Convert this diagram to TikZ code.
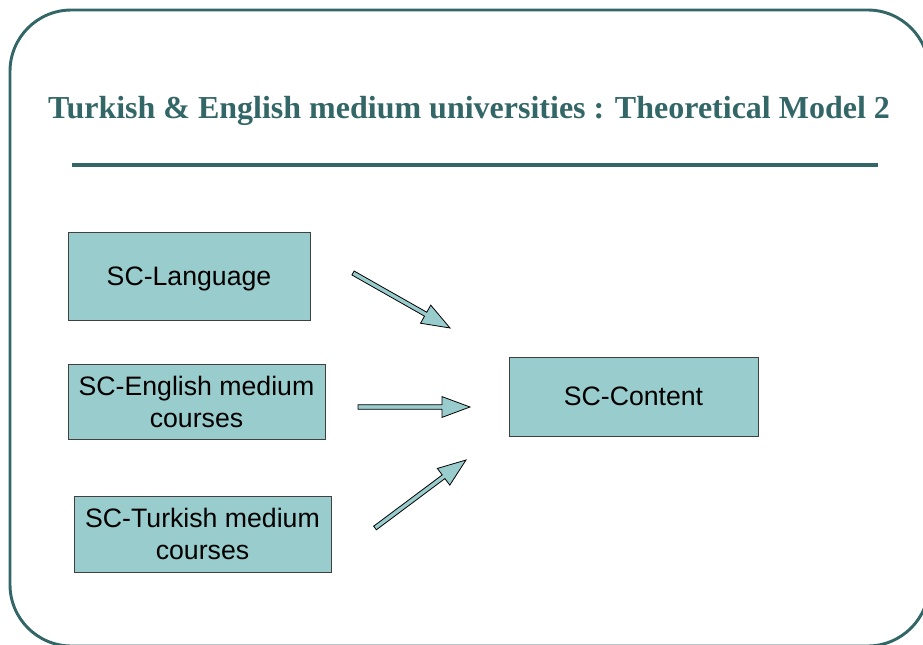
\documentclass[tikz,border=0pt]{standalone}
\usepackage{fontspec}
\setmainfont{Liberation Sans}
\newfontfamily\titlefont{Liberation Serif}
\usetikzlibrary{calc,positioning}
\definecolor{slidegreen}{HTML}{336666}
\definecolor{boxfill}{HTML}{99CCCC}
\definecolor{boxline}{HTML}{404040}

% block arrow from #1 (tail) to #2 (tip)
\newcommand{\blockarrow}[2]{%
  \coordinate (#1_head) at ($(#2)!21pt!(#1)$);
  \draw[arrowbody] ($(#1)!1.7pt!90:(#2)$) -- ($(#1_head)!1.7pt!90:(#2)$)
    -- ($(#1_head)!7.8pt!90:(#2)$) -- (#2) -- ($(#1_head)!7.8pt!-90:(#2)$)
    -- ($(#1_head)!1.7pt!-90:(#2)$) -- ($(#1)!1.7pt!-90:(#2)$) -- cycle;
}

\begin{document}
\begin{tikzpicture}[x=0.75pt, y=-0.75pt,
    frame/.style={draw=slidegreen, line width=2.2pt, rounded corners=46pt},
    scbox/.style={draw=boxline, fill=boxfill, line width=0.7pt, align=center,
        font=\fontsize{20}{24}\selectfont, inner sep=0pt, text depth=0pt},
    arrowbody/.style={draw=black, fill=boxfill, line width=0.6pt, line join=miter}
    ]
    \useasboundingbox (0,0) rectangle (923,645);
    
    % Slide frame, title and rule
    \draw[frame] (10,10) rectangle (929,646);
    \node[anchor=base, text=slidegreen, font=\titlefont\bfseries\fontsize{24}{29}\selectfont] (title) at (469,119)
        {Turkish \& English medium universities : Theoretical Model 2};
    \draw[slidegreen, line width=3pt] (72,165) coordinate (rule_l) -- (878,165) coordinate (rule_r);
    
    % Boxes
    \node[scbox, minimum width=181.5pt, minimum height=66pt] (lang) at (189,276) {SC-Language};
    \node[scbox, minimum width=192.75pt, minimum height=56.25pt] (eng) at (196.5,401.5) {SC-English medium\\courses};
    \node[scbox, minimum width=192.75pt, minimum height=57pt] (turk) at (202.5,534) {SC-Turkish medium\\courses};
    \node[scbox, minimum width=186.75pt, minimum height=59.25pt] (content) at (633.5,396.5) {SC-Content};
    
    % Arrow ends
    \coordinate (lang_tail) at (353,273);
    \coordinate (lang_tip) at (450,328);
    \coordinate (eng_tail) at (358,407);
    \coordinate (eng_tip) at (470,407);
    \coordinate (turk_tail) at (375,528);
    \coordinate (turk_tip) at (466,460);
    
    % Block arrows towards SC-Content
    \blockarrow{lang_tail}{lang_tip}
    \blockarrow{eng_tail}{eng_tip}
    \blockarrow{turk_tail}{turk_tip}
    
\end{tikzpicture}
\end{document}
